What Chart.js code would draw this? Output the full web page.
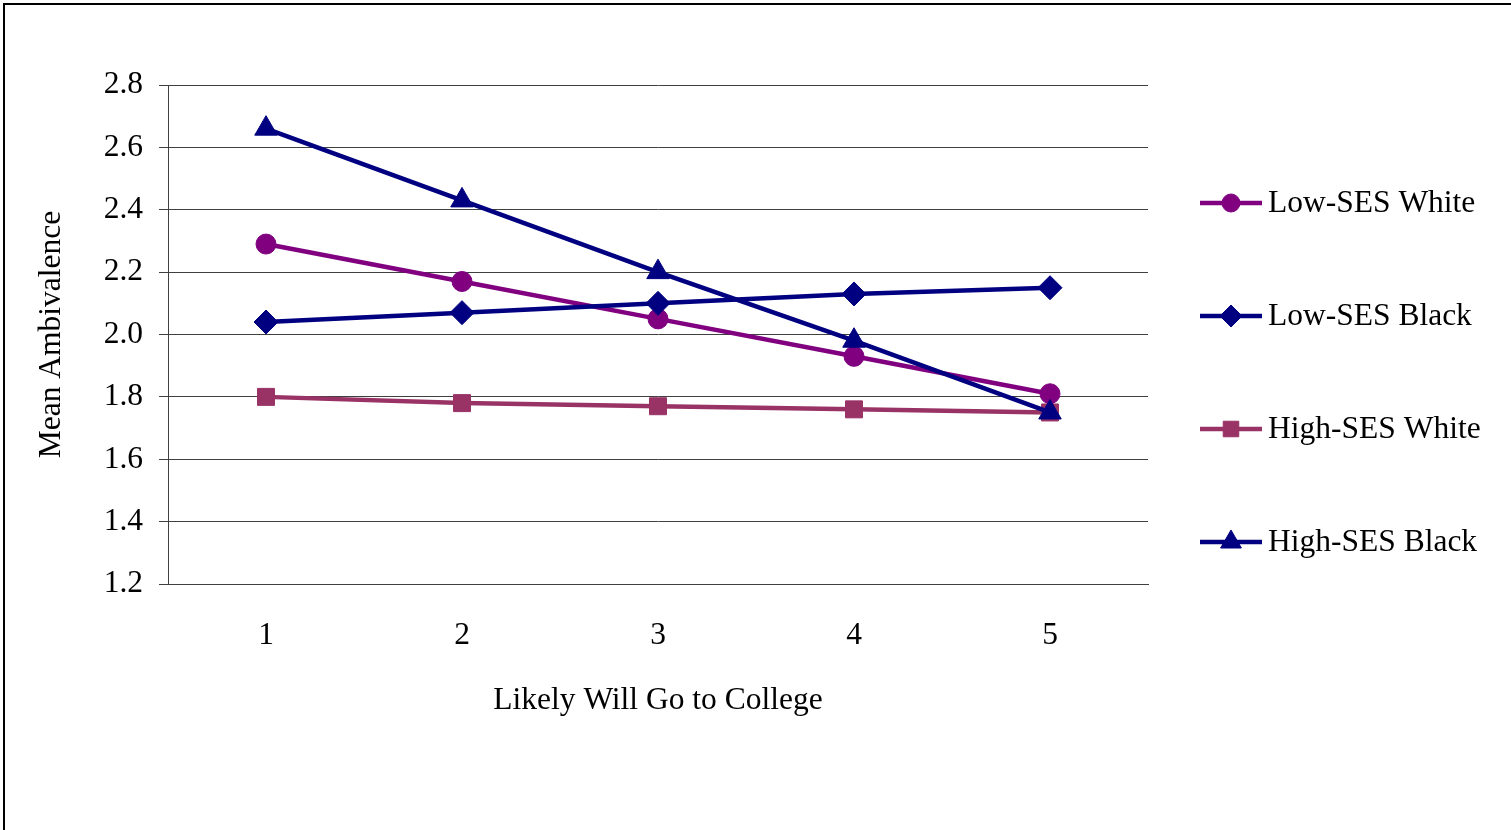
<!DOCTYPE html>
<html>
<head>
<meta charset="utf-8">
<script src="https://cdn.jsdelivr.net/npm/chart.js@4.4.0/dist/chart.umd.min.js"></script>
<style>
  html, body { margin: 0; padding: 0; background: #fff; overflow: hidden; }
  #frame { position: absolute; left: 3px; top: 3px; width: 1520px; height: 840px; border: 2px solid #000; }
  #wrap { position: absolute; left: 0; top: 0; width: 1511px; height: 830px; }
</style>
</head>
<body>
<div id="frame"></div>
<div id="wrap"><canvas id="chart" width="1511" height="830"></canvas></div>
<script>
// データ
const categories = ['1', '2', '3', '4', '5'];
const seriesNames = ['Low-SES White', 'Low-SES Black', 'High-SES White', 'High-SES Black'];
const lowSesWhite  = [2.29, 2.17, 2.05, 1.93, 1.81];
const lowSesBlack  = [2.04, 2.07, 2.10, 2.13, 2.15];
const highSesWhite = [1.80, 1.78, 1.77, 1.76, 1.75];
const highSesBlack = [2.66, 2.43, 2.20, 1.98, 1.75];
const yMin = 1.2, yMax = 2.8, yStep = 0.2;

const FONT = "'Liberation Serif', 'Times New Roman', serif";
const FS = 31.5;

const styles = [
  { color: '#800080', point: 'circle',   r: 10 },
  { color: '#000080', point: 'rectRot',  r: 12 },
  { color: '#993366', point: 'rect',     r: 12 },
  { color: '#000080', point: 'triangle', r: 13 }
];
const values = [lowSesWhite, lowSesBlack, highSesWhite, highSesBlack];

const datasets = values.map((v, i) => ({
  label: seriesNames[i],
  data: v,
  borderColor: styles[i].color,
  backgroundColor: styles[i].color,
  pointBackgroundColor: styles[i].color,
  pointBorderColor: styles[i].color,
  pointStyle: styles[i].point,
  pointRadius: styles[i].r,
  pointBorderWidth: 1,
  borderWidth: 4.5,
  tension: 0,
  order: 4 - i
}));

// 右側の凡例
const sideLegend = {
  id: 'sideLegend',
  afterDraw(chart) {
    const ctx = chart.ctx;
    ctx.save();
    seriesNames.forEach((name, i) => {
      const y = 203 + i * 113;
      const s = styles[i];
      ctx.strokeStyle = s.color;
      ctx.lineWidth = 4.5;
      ctx.beginPath();
      ctx.moveTo(1200, y);
      ctx.lineTo(1262, y);
      ctx.stroke();
      ctx.fillStyle = s.color;
      ctx.lineWidth = 1;
      Chart.helpers.drawPoint(ctx, { pointStyle: s.point, radius: s.r - 1, rotation: 0, borderWidth: 1 }, 1231, y);
      ctx.fillStyle = '#000';
      ctx.font = FS + 'px ' + FONT;
      ctx.textAlign = 'left';
      ctx.textBaseline = 'middle';
      ctx.fillText(name, 1268, y + 1);
    });
    ctx.restore();
  }
};

new Chart(document.getElementById('chart').getContext('2d'), {
  type: 'line',
  data: { labels: categories, datasets: datasets },
  options: {
    responsive: false,
    animation: false,
    layout: { padding: { left: 0, top: 85, right: 363, bottom: 106 } },
    plugins: { legend: { display: false }, tooltip: { enabled: false } },
    scales: {
      x: {
        type: 'category',
        offset: true,
        grid: { display: false },
        border: { display: true, color: '#404040', width: 1 },
        ticks: { color: '#000', padding: 25, font: { family: FONT, size: FS } },
        title: { display: true, text: 'Likely Will Go to College', color: '#000',
                 padding: { top: 0, bottom: 4 }, font: { family: FONT, size: FS } },
        afterFit: s => { s.height = 140; }
      },
      y: {
        min: yMin, max: yMax,
        grid: { color: '#404040', lineWidth: 1, tickLength: 9, drawTicks: true },
        border: { display: true, color: '#404040', width: 1 },
        ticks: { stepSize: yStep, color: '#000', padding: 16,
                 font: { family: FONT, size: FS },
                 callback: v => Number(v).toFixed(1) },
        title: { display: true, text: 'Mean Ambivalence', color: '#000',
                 padding: { top: 33, bottom: 0 }, font: { family: FONT, size: FS } },
        afterFit: s => { s.width = 168; }
      }
    }
  },
  plugins: [sideLegend]
});
</script>
</body>
</html>
